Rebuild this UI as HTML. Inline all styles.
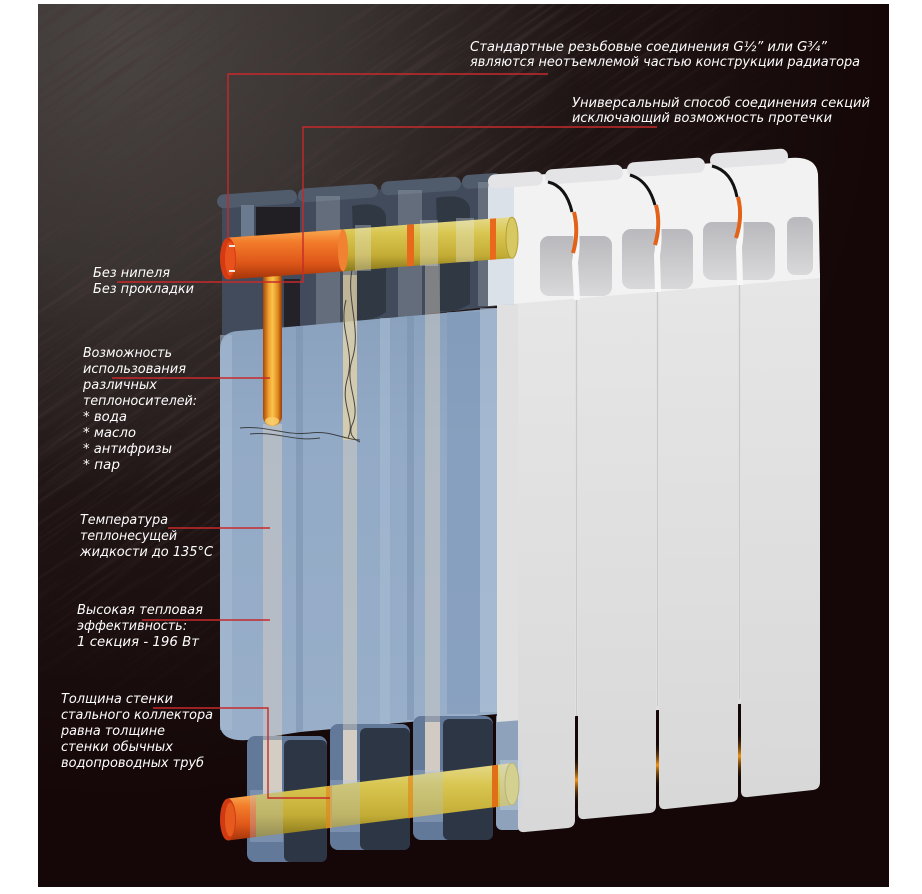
<!DOCTYPE html>
<html><head><meta charset="utf-8">
<style>
html,body{margin:0;padding:0;background:#fff;width:922px;height:894px;overflow:hidden;}
svg{display:block;}
text{font-family:"DejaVu Sans","Liberation Sans",sans-serif;font-style:oblique;font-size:13px;fill:#ffffff;}
</style></head>
<body>
<svg width="922" height="894" viewBox="0 0 922 894" xmlns="http://www.w3.org/2000/svg" overflow="hidden">
<defs>
  <radialGradient id="tex" cx="120" cy="40" r="760" gradientUnits="userSpaceOnUse">
    <stop offset="0" stop-color="#4a4442"/>
    <stop offset="0.3" stop-color="#393331"/>
    <stop offset="0.6" stop-color="#201515"/>
    <stop offset="1" stop-color="#150707"/>
  </radialGradient>
  <radialGradient id="maskG" cx="150" cy="60" r="650" gradientUnits="userSpaceOnUse">
    <stop offset="0" stop-color="#fff"/>
    <stop offset="0.6" stop-color="#888"/>
    <stop offset="1" stop-color="#000"/>
  </radialGradient>
  <mask id="texMask"><rect x="38" y="4" width="851" height="883" fill="url(#maskG)"/></mask>
  <filter id="streak" x="0" y="0" width="1" height="1">
    <feTurbulence type="fractalNoise" baseFrequency="0.008 0.22" numOctaves="3" seed="7" result="n"/>
    <feColorMatrix in="n" type="matrix" values="0 0 0 0 0.06  0 0 0 0 0.04  0 0 0 0 0.04  -3 0 0 0 1.55"/>
  </filter>
  <pattern id="streakPat" patternUnits="userSpaceOnUse" x="-300" y="-300" width="1400" height="1400" patternTransform="rotate(-35 300 300)">
    <rect x="0" y="0" width="1400" height="1400" filter="url(#streak)"/>
  </pattern>
  <linearGradient id="orangeV" x1="0" y1="0" x2="0" y2="1">
    <stop offset="0" stop-color="#f8a850"/>
    <stop offset="0.25" stop-color="#f27c2a"/>
    <stop offset="0.65" stop-color="#e0581a"/>
    <stop offset="1" stop-color="#a2340a"/>
  </linearGradient>
  <linearGradient id="yellowV" x1="0" y1="0" x2="0" y2="1">
    <stop offset="0" stop-color="#e6da8a"/>
    <stop offset="0.3" stop-color="#d8c650"/>
    <stop offset="0.7" stop-color="#c4ad36"/>
    <stop offset="1" stop-color="#8a781c"/>
  </linearGradient>
  <linearGradient id="tubeH" x1="0" y1="0" x2="1" y2="0">
    <stop offset="0" stop-color="#a44608"/>
    <stop offset="0.3" stop-color="#f0a030"/>
    <stop offset="0.5" stop-color="#fac44c"/>
    <stop offset="0.78" stop-color="#e08a20"/>
    <stop offset="1" stop-color="#963c06"/>
  </linearGradient>
  <linearGradient id="panelG" x1="0" y1="0" x2="0" y2="1">
    <stop offset="0" stop-color="#e6e6e6"/>
    <stop offset="1" stop-color="#d8d8d8"/>
  </linearGradient>
  <linearGradient id="holeG" x1="0" y1="0" x2="0" y2="1">
    <stop offset="0" stop-color="#b9b9bd"/>
    <stop offset="1" stop-color="#d9d9db"/>
  </linearGradient>
  <linearGradient id="glow" x1="0" y1="0" x2="0" y2="1">
    <stop offset="0" stop-color="#1a0a05" stop-opacity="0"/>
    <stop offset="0.5" stop-color="#f0961a"/>
    <stop offset="1" stop-color="#1a0a05" stop-opacity="0"/>
  </linearGradient>
  <linearGradient id="bodyG" x1="0" y1="0" x2="0" y2="1">
    <stop offset="0" stop-color="#8aa1bd"/>
    <stop offset="0.3" stop-color="#93aac6"/>
    <stop offset="1" stop-color="#98aec9"/>
  </linearGradient>
</defs>

<!-- background -->
<rect x="0" y="0" width="922" height="894" fill="#ffffff"/>
<rect x="38" y="4" width="851" height="883" fill="#150707"/>
<rect x="38" y="4" width="851" height="883" fill="url(#tex)"/>
<rect x="38" y="4" width="851" height="883" fill="url(#streakPat)" mask="url(#texMask)" opacity="0.85"/>

<!-- transparent sections: header -->
<path d="M222,212 Q222,203 232,202 L490,180 L505,180 L505,305 L222,338 Z" fill="#414b5b"/>
<g fill="#505b6c">
  <rect x="217" y="192" width="80" height="14" rx="7" transform="rotate(-4 257 199)"/>
  <rect x="298" y="186" width="80" height="14" rx="7" transform="rotate(-4 338 193)"/>
  <rect x="381" y="179" width="80" height="14" rx="7" transform="rotate(-4 421 186)"/>
  <rect x="462" y="174" width="40" height="14" rx="7" transform="rotate(-4 482 181)"/>
</g>
<rect x="241" y="205" width="13" height="34" fill="#6b7a8f"/>
<rect x="256" y="207" width="44" height="31" fill="#211e24"/>
<rect x="284" y="279" width="16" height="52" fill="#232228"/>
<path d="M352,206 Q382,200 386,216 L386,312 Q372,322 356,320 Z" fill="#303844"/>
<path d="M436,198 Q466,192 470,208 L470,304 Q456,313 440,311 Z" fill="#303844"/>
<g fill="#dfe8f2" opacity="0.22">
  <rect x="316" y="196" width="24" height="136"/>
  <rect x="398" y="190" width="24" height="130"/>
  <rect x="478" y="182" width="24" height="124"/>
</g>

<!-- transparent body -->
<path d="M220,350 Q220,332 238,331 L300,326 L520,306 L520,712 L300,732 L248,740 Q222,742 220,726 Z" fill="url(#bodyG)"/>
<g opacity="0.55">
  <rect x="220" y="335" width="12" height="395" fill="#a9bcd3"/>
  <rect x="296" y="326" width="7" height="406" fill="#7b92af"/>
  <rect x="380" y="318" width="10" height="406" fill="#a9bdd4"/>
  <rect x="407" y="316" width="7" height="404" fill="#7b92af"/>
  <rect x="447" y="312" width="33" height="402" fill="#7f98ba"/>
  <rect x="480" y="308" width="20" height="404" fill="#b2c4da"/>
</g>
<rect x="498" y="306" width="22" height="410" fill="#c2cfdf"/>

<!-- feet -->
<rect x="247" y="736" width="80" height="126" rx="8" fill="#62799a"/>
<rect x="284" y="740" width="43" height="122" rx="6" fill="#2d3645"/>
<rect x="330" y="724" width="80" height="126" rx="8" fill="#62799a"/>
<rect x="360" y="728" width="50" height="122" rx="6" fill="#2d3645"/>
<rect x="413" y="716" width="80" height="124" rx="8" fill="#62799a"/>
<rect x="443" y="719" width="50" height="121" rx="6" fill="#2d3645"/>
<rect x="496" y="712" width="27" height="118" rx="6" fill="#8ea3bb"/>

<!-- white sections -->
<path d="M497,300 L820,275 L820,698 L497,722 Z" fill="#e0e0e0"/>
<path d="M518,298 L575,294 L575,820 Q575,827 568,828 L525,832 Q518,833 518,826 Z" fill="url(#panelG)"/>
<path d="M578,293 L656,287 L656,806 Q656,812 650,813 L585,819 Q578,820 578,813 Z" fill="url(#panelG)"/>
<path d="M659,286 L738,280 L738,795 Q738,801 732,802 L666,809 Q659,810 659,803 Z" fill="url(#panelG)"/>
<path d="M741,279 L820,273 L820,782 Q820,789 813,790 L748,797 Q741,798 741,791 Z" fill="url(#panelG)"/>
<g fill="#c9c9c9">
  <rect x="576" y="296" width="1" height="420"/>
  <rect x="657" y="290" width="1" height="416"/>
  <rect x="739" y="283" width="1" height="416"/>
</g>
<rect x="575" y="755" width="3" height="50" fill="url(#glow)"/>
<rect x="656" y="742" width="3" height="46" fill="url(#glow)"/>
<rect x="738" y="732" width="3" height="48" fill="url(#glow)"/>

<!-- white header -->
<path d="M488,188 Q490,178 502,177 L790,158 Q816,156 818,174 L820,278 L488,306 Z" fill="#f2f2f2"/>
<rect x="488" y="180" width="26" height="125" fill="#c9d4e0" opacity="0.55"/>
<g fill="url(#holeG)">
  <rect x="540" y="236" width="72" height="60" rx="9"/>
  <rect x="622" y="229" width="71" height="60" rx="9"/>
  <rect x="703" y="222" width="72" height="58" rx="9"/>
  <rect x="787" y="217" width="26" height="58" rx="8"/>
</g>
<g fill="none" stroke="#f7f7f7" stroke-width="6">
  <path d="M573,210 Q579,240 575,262 L577,300"/>
  <path d="M655,203 Q661,233 657,255 L658,292"/>
  <path d="M737,195 Q743,225 739,247 L740,285"/>
</g>
<g fill="#e4e4e6">
  <rect x="488" y="173" width="55" height="14" rx="7" transform="rotate(-4 515 180)"/>
  <rect x="545" y="167" width="78" height="15" rx="7" transform="rotate(-4 584 174)"/>
  <rect x="627" y="160" width="78" height="15" rx="7" transform="rotate(-4 666 167)"/>
  <rect x="710" y="151" width="78" height="15" rx="7" transform="rotate(-4 749 158)"/>
</g>
<g fill="none" stroke="#111" stroke-width="3">
  <path d="M548,182 Q566,186 572,212"/>
  <path d="M630,175 Q648,180 655,205"/>
  <path d="M712,166 Q732,171 737,197"/>
</g>
<g fill="none" stroke="#e2621a" stroke-width="4">
  <path d="M574,212 Q579,232 573,253"/>
  <path d="M656,205 Q661,225 655,245"/>
  <path d="M738,197 Q743,217 736,238"/>
</g>

<!-- pale inner tubes -->
<rect x="263" y="424" width="19" height="380" fill="#dcd1c4" opacity="0.45"/>
<rect x="343" y="270" width="14" height="520" fill="#dcd2c2" opacity="0.45"/>
<rect x="343" y="275" width="14" height="165" fill="#ecd9a0" opacity="0.55"/>
<rect x="425" y="262" width="15" height="510" fill="#dcd2c2" opacity="0.4"/>
<rect x="263" y="740" width="19" height="60" fill="#ece0cf" opacity="0.7"/>
<rect x="343" y="730" width="14" height="60" fill="#ece0cf" opacity="0.7"/>
<rect x="425" y="722" width="15" height="58" fill="#ece0cf" opacity="0.7"/>

<!-- wavy lines -->
<g fill="none" stroke="#2e2e2e" stroke-width="1" opacity="0.85">
  <path d="M352,270 C346,300 362,330 352,360 C344,385 362,405 352,425 C348,435 355,440 360,442"/>
  <path d="M346,300 C338,330 356,350 347,380 C340,405 356,420 348,438"/>
  <path d="M240,428 C265,425 285,436 310,433 C330,430 345,440 360,440"/>
  <path d="M250,434 C275,431 295,442 320,438"/>
</g>

<!-- vertical orange tube -->
<rect x="263" y="268" width="19" height="158" rx="9.5" fill="url(#tubeH)"/>
<ellipse cx="272" cy="421" rx="7" ry="4" fill="#f8d070" opacity="0.8"/>

<!-- top pipe -->
<polygon points="343,229.4 512,217.2 512,258.2 343,271.4" fill="url(#yellowV)"/>
<polygon points="228,237.6 343,229.4 343,271.4 228,279.6" fill="url(#orangeV)"/>
<ellipse cx="343" cy="250.4" rx="5" ry="21" fill="#f08232"/>
<ellipse cx="512" cy="237.7" rx="6" ry="20.5" fill="#d8c862" stroke="#b4a03a" stroke-width="1"/>
<polygon points="407,224.7 414,224.2 414,265.7 407,266.2" fill="#e8681c"/>
<polygon points="490,218.8 496,218.4 496,259.4 490,259.8" fill="#e8681c"/>
<g fill="#e8eef5" opacity="0.3">
  <rect x="355" y="225" width="16" height="46"/>
  <rect x="420" y="220" width="18" height="46"/>
  <rect x="456" y="218" width="18" height="44"/>
</g>
<ellipse cx="228" cy="258.6" rx="8" ry="21" fill="#d63a12"/>
<ellipse cx="230" cy="258.6" rx="5" ry="17" fill="#e8521c"/>
<rect x="229" y="245" width="6" height="2" fill="#f2e6e0"/>
<rect x="229" y="270" width="6" height="2" fill="#f2e6e0"/>

<!-- bottom pipe -->
<polygon points="256,795 512,763 512,805 256,837" fill="url(#yellowV)"/>
<polygon points="228,798.5 256,795 256,837 228,840.5" fill="url(#orangeV)"/>
<ellipse cx="228" cy="819.5" rx="8" ry="21" fill="#cf3a12"/>
<ellipse cx="230" cy="819.5" rx="5" ry="17" fill="#e65a1e"/>
<ellipse cx="512" cy="784" rx="7" ry="21" fill="#dccb58" stroke="#b09a30" stroke-width="1"/>
<polygon points="326,786.6 332,785.8 332,827.8 326,828.6" fill="#e08a1c" opacity="0.7"/>
<polygon points="408,776.4 413,775.8 413,817.8 408,818.4" fill="#e08a1c" opacity="0.7"/>
<polygon points="492,765.5 498,764.8 498,806.8 492,807.5" fill="#e07018"/>
<g fill="#b4c6dc" opacity="0.3">
  <rect x="250" y="790" width="33" height="52"/>
  <rect x="330" y="780" width="30" height="52"/>
  <rect x="413" y="770" width="30" height="52"/>
</g>
<rect x="500" y="760" width="22" height="50" fill="#c8d6e6" opacity="0.4"/>

<!-- red leader lines -->
<g fill="none" stroke="#c62a2a" stroke-width="1.4">
  <path d="M548,74 H228 V240"/>
  <path d="M657,127 H303 V282 H117"/>
  <path d="M112,378 H270"/>
  <path d="M168,528 H270"/>
  <path d="M142,620 H270"/>
  <path d="M153,708 H268 V798 H330"/>
</g>

<!-- text -->
<text x="470" y="51" textLength="357" lengthAdjust="spacingAndGlyphs">Стандартные резьбовые соединения G½” или G¾”</text>
<text x="470" y="66" textLength="390" lengthAdjust="spacingAndGlyphs">являются неотъемлемой частью конструкции радиатора</text>
<text x="572" y="107" textLength="298" lengthAdjust="spacingAndGlyphs">Универсальный способ соединения секций</text>
<text x="572" y="122" textLength="260" lengthAdjust="spacingAndGlyphs">исключающий возможность протечки</text>

<text x="93" y="277" textLength="77" lengthAdjust="spacingAndGlyphs">Без нипеля</text>
<text x="93" y="293" textLength="101" lengthAdjust="spacingAndGlyphs">Без прокладки</text>

<text x="83" y="357" textLength="89" lengthAdjust="spacingAndGlyphs">Возможность</text>
<text x="83" y="373" textLength="103" lengthAdjust="spacingAndGlyphs">использования</text>
<text x="83" y="389" textLength="74" lengthAdjust="spacingAndGlyphs">различных</text>
<text x="83" y="405" textLength="114" lengthAdjust="spacingAndGlyphs">теплоносителей:</text>
<text x="83" y="421" textLength="44" lengthAdjust="spacingAndGlyphs">* вода</text>
<text x="83" y="437" textLength="53" lengthAdjust="spacingAndGlyphs">* масло</text>
<text x="83" y="453" textLength="89" lengthAdjust="spacingAndGlyphs">* антифризы</text>
<text x="83" y="469" textLength="37" lengthAdjust="spacingAndGlyphs">* пар</text>

<text x="80" y="524" textLength="88" lengthAdjust="spacingAndGlyphs">Температура</text>
<text x="80" y="540" textLength="97" lengthAdjust="spacingAndGlyphs">теплонесущей</text>
<text x="80" y="556" textLength="133" lengthAdjust="spacingAndGlyphs">жидкости до 135°С</text>

<text x="77" y="614" textLength="126" lengthAdjust="spacingAndGlyphs">Высокая тепловая</text>
<text x="77" y="630" textLength="110" lengthAdjust="spacingAndGlyphs">эффективность:</text>
<text x="77" y="646" textLength="122" lengthAdjust="spacingAndGlyphs">1 секция - 196 Вт</text>

<text x="61" y="703" textLength="112" lengthAdjust="spacingAndGlyphs">Толщина стенки</text>
<text x="61" y="719" textLength="152" lengthAdjust="spacingAndGlyphs">стального коллектора</text>
<text x="61" y="735" textLength="104" lengthAdjust="spacingAndGlyphs">равна толщине</text>
<text x="61" y="751" textLength="112" lengthAdjust="spacingAndGlyphs">стенки обычных</text>
<text x="61" y="767" textLength="143" lengthAdjust="spacingAndGlyphs">водопроводных труб</text>
</svg>
</body></html>
